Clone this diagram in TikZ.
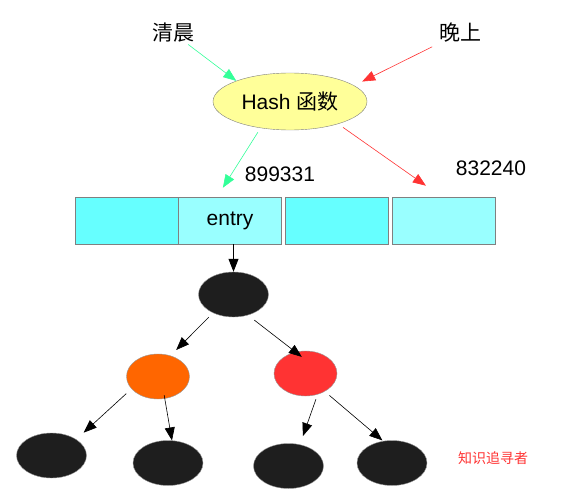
\documentclass[tikz,border=0pt]{standalone}
\usepackage{fontspec}
\setmainfont{Liberation Sans}
\newfontfamily\cjk{Noto Sans CJK SC}
\usetikzlibrary{shapes.geometric,arrows.meta}

\definecolor{hashyellow}{RGB}{255,255,153}
\definecolor{slotdark}{RGB}{102,255,255}
\definecolor{slotlight}{RGB}{153,255,255}
\definecolor{greenarrow}{RGB}{51,255,153}
\definecolor{redarrow}{RGB}{255,51,51}
\definecolor{treeorange}{RGB}{255,102,0}
\definecolor{treered}{RGB}{255,51,51}
\definecolor{treeblack}{RGB}{30,30,30}

\tikzstyle{lbl}=[inner sep=0pt,font=\fontsize{21}{25}\selectfont]
\tikzstyle{hashfn}=[ellipse,draw=gray,fill=hashyellow,minimum width=154pt,minimum height=57pt,inner sep=0pt,font=\fontsize{21}{25}\selectfont]
\tikzstyle{slot}=[rectangle,draw=gray,line width=0.8pt,minimum width=103pt,minimum height=47pt,inner sep=0pt,font=\fontsize{21}{25}\selectfont]
\tikzstyle{blk}=[ellipse,draw=gray!80,fill=treeblack,minimum width=70pt,minimum height=45pt,inner sep=0pt]
\tikzstyle{clr}=[ellipse,draw=gray!80,minimum width=63pt,minimum height=45pt,inner sep=0pt]
\tikzstyle{garrow}=[draw=greenarrow,line width=0.6pt,-{Triangle[length=13pt,width=10pt]}]
\tikzstyle{rarrow}=[draw=redarrow,line width=0.6pt,-{Triangle[length=13pt,width=10pt]}]
\tikzstyle{tarrow}=[draw=black,line width=0.6pt,-{Triangle[length=13pt,width=10pt]}]

\begin{document}
\begin{tikzpicture}[x=1pt,y=1pt]
        \useasboundingbox (0,0) rectangle (580,-497);

        \draw (173,-33) node[lbl](qc){\cjk 清晨};
        \draw (460,-33) node[lbl](wx){\cjk 晚上};
        \draw (290,-101.5) node[hashfn](hash){Hash {\cjk 函数}};
        \draw (280,-174) node[lbl](k1){899331};
        \draw (491,-168) node[lbl](k2){832240};
        %
        \draw (126.5,-220.5) node[slot,fill=slotdark](b1){};
        \draw (230,-220.5) node[slot,fill=slotlight](entry){entry};
        \draw (336.5,-220.5) node[slot,fill=slotdark](b3){};
        \draw (443.5,-220.5) node[slot,fill=slotlight](b4){};
        %
        \draw (233.5,-294.5) node[blk](root){};
        \draw (158,-376.5) node[clr,fill=treeorange](orange){};
        \draw (305.5,-373.5) node[clr,fill=treered](red){};
        \draw (51.5,-455.5) node[blk](l1){};
        \draw (168,-463) node[blk](l2){};
        \draw (288.5,-466) node[blk](l3){};
        \draw (392,-463) node[blk](l4){};
        \draw (493,-458) node[inner sep=0pt,text=treered,font=\cjk\fontsize{14}{16}\selectfont](sign){知识追寻者};
        %
        \path
            (qc.center)     edge[garrow,shorten <=19pt]                   (hash.159)
            (wx.center)     edge[rarrow,shorten <=31pt,shorten >=9pt]     (hash.14)
            (hash.222)      edge[garrow,shorten <=5pt,shorten >=10.5pt]   (entry.118)
            (hash.335)      edge[rarrow,shorten <=6pt,shorten >=19pt]     (b4.95)
            (root.north |- entry.south) edge[tarrow,line width=0.8pt]     (root.north)
            (root.222)      edge[tarrow,shorten <=6pt,shorten >=8pt]      (orange.59)
            (root.305)      edge[tarrow,shorten <=8pt,shorten >=-8pt]     (red.115)
            (orange.205)    edge[tarrow,shorten <=7pt,shorten >=10pt]     (l1.33)
            (orange.287)    edge[tarrow,shorten <=-3.5pt]                 (l2.80)
            (red.300)       edge[tarrow,shorten <=5pt,shorten >=9pt]      (l3.62)
            (red.317)       edge[tarrow,shorten <=6pt,shorten >=1pt]      (l4.112)
        ;
      \end{tikzpicture}
\end{document}
